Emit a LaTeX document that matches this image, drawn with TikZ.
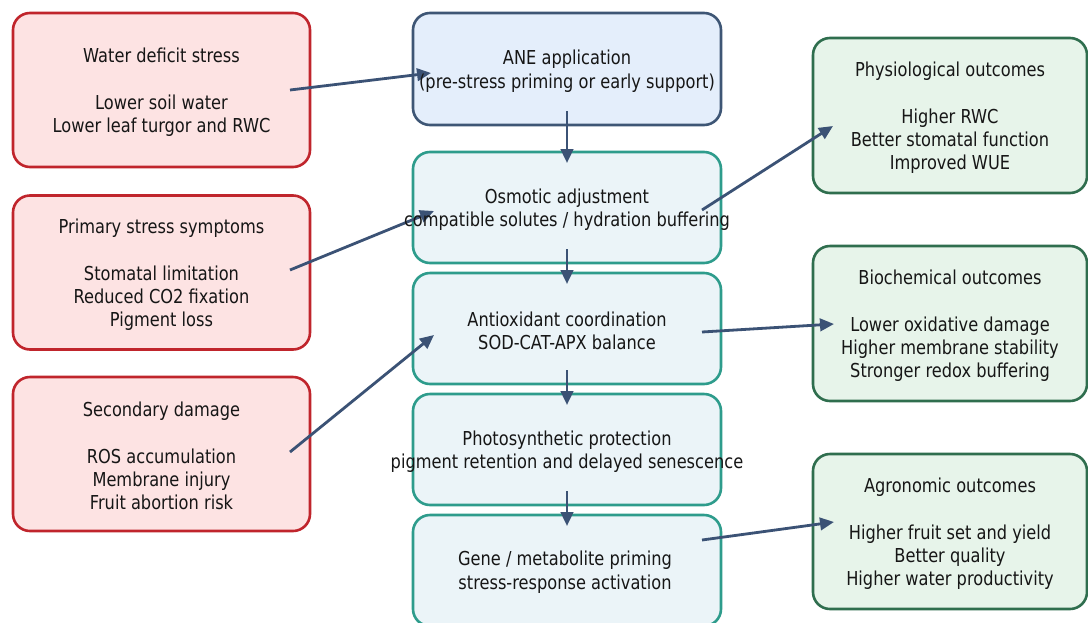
\documentclass[tikz,border=0pt]{standalone}
\usepackage{fontspec}
\setmainfont{DejaVu Sans}[FakeStretch=0.845]
\usetikzlibrary{arrows.meta}

\definecolor{stressfill}{HTML}{FDE3E3}
\definecolor{stressline}{HTML}{C0252C}
\definecolor{anefill}{HTML}{E4EEFB}
\definecolor{aneline}{HTML}{3E5675}
\definecolor{mechfill}{HTML}{EBF4F8}
\definecolor{mechline}{HTML}{2E9C8C}
\definecolor{outfill}{HTML}{E7F4EA}
\definecolor{outline}{HTML}{2F6E4E}
\definecolor{flow}{HTML}{3B5275}
\definecolor{ink}{HTML}{161616}

\tikzset{
  x=1pt, y=-1pt,
  boxbase/.style={rounded corners=17pt, line width=2.6pt, inner sep=0pt},
  stressbox/.style={boxbase, draw=stressline, fill=stressfill, minimum width=297pt, minimum height=154pt},
  anebox/.style={boxbase, draw=aneline, fill=anefill, minimum width=308pt, minimum height=112pt},
  mechbox/.style={boxbase, draw=mechline, fill=mechfill, minimum width=308pt, minimum height=111pt},
  outbox/.style={boxbase, draw=outline, fill=outfill, minimum width=274pt, minimum height=155pt},
  boxtext/.style={align=center, text=ink, inner sep=0pt, yshift=-2.2pt, font=\fontsize{19.2}{23.3}\selectfont},
  flowarrow/.style={draw=flow, line width=2.8pt, -{Triangle[length=14pt,width=12.5pt]}},
}

\begin{document}
\begin{tikzpicture}
\useasboundingbox[fill=white] (0,0) rectangle (1088,622);

% --- boxes ---
\node[stressbox] (wd) at (161.5,90) {};
\node[stressbox] (ps) at (161.5,272.5) {};
\node[stressbox] (sd) at (161.5,454) {};

\node[anebox]  (ane) at (567,69) {};
\node[mechbox] (osm) at (567,207.5) {};
\node[mechbox] (aox) at (567,328.5) {};
\node[mechbox] (pho) at (567,449.5) {};
\node[mechbox] (gen) at (567,570.5) {};

\node[outbox] (phy) at (950,115.5) {};
\node[outbox] (bio) at (950,323.5) {};
\node[outbox] (agr) at (950,531.5) {};

% --- arrow end points ---
\coordinate (wd-o)  at (290,90);   \coordinate (ane-i) at (431,73);
\coordinate (ps-o)  at (290,270);  \coordinate (osm-i) at (434,211);
\coordinate (sd-o)  at (290,452);  \coordinate (aox-i) at (434,335);

\coordinate (ane-d) at (567,111);  \coordinate (osm-u) at (567,163);
\coordinate (osm-d) at (567,249);  \coordinate (aox-u) at (567,284);
\coordinate (aox-d) at (567,370);  \coordinate (pho-u) at (567,405);
\coordinate (pho-d) at (567,491);  \coordinate (gen-u) at (567,526);

\coordinate (osm-o) at (702,210);  \coordinate (phy-i) at (833,126);
\coordinate (aox-o) at (702,332);  \coordinate (bio-i) at (834,324);
\coordinate (gen-o) at (702,540);  \coordinate (agr-i) at (834,522);

% --- arrows ---
\draw[flowarrow] (wd-o) -- (ane-i);
\draw[flowarrow] (ps-o) -- (osm-i);
\draw[flowarrow] (sd-o) -- (aox-i);
\draw[flowarrow] (ane-d) -- (osm-u);
\draw[flowarrow] (osm-d) -- (aox-u);
\draw[flowarrow] (aox-d) -- (pho-u);
\draw[flowarrow] (pho-d) -- (gen-u);
\draw[flowarrow] (osm-o) -- (phy-i);
\draw[flowarrow] (aox-o) -- (bio-i);
\draw[flowarrow] (gen-o) -- (agr-i);

% --- texts ---
\node[boxtext] (wd-t) at (wd) {Water deficit stress\\[23.3pt]Lower soil water\\Lower leaf turgor and RWC};
\node[boxtext] (ps-t) at (ps) {Primary stress symptoms\\[23.3pt]Stomatal limitation\\Reduced CO2 fixation\\Pigment loss};
\node[boxtext] (sd-t) at (sd) {Secondary damage\\[23.3pt]ROS accumulation\\Membrane injury\\Fruit abortion risk};

\node[boxtext] (ane-t) at (ane) {ANE application\\(pre-stress priming or early support)};
\node[boxtext] (osm-t) at (osm) {Osmotic adjustment\\compatible solutes / hydration buffering};
\node[boxtext] (aox-t) at (aox) {Antioxidant coordination\\SOD-CAT-APX balance};
\node[boxtext] (pho-t) at (pho) {Photosynthetic protection\\pigment retention and delayed senescence};
\node[boxtext] (gen-t) at (565,570) {Gene / metabolite priming\\stress-response activation};

\node[boxtext] (phy-t) at (phy) {Physiological outcomes\\[23.3pt]Higher RWC\\Better stomatal function\\Improved WUE};
\node[boxtext] (bio-t) at (bio) {Biochemical outcomes\\[23.3pt]Lower oxidative damage\\Higher membrane stability\\Stronger redox buffering};
\node[boxtext] (agr-t) at (agr) {Agronomic outcomes\\[23.3pt]Higher fruit set and yield\\Better quality\\Higher water productivity};
\end{tikzpicture}
\end{document}
